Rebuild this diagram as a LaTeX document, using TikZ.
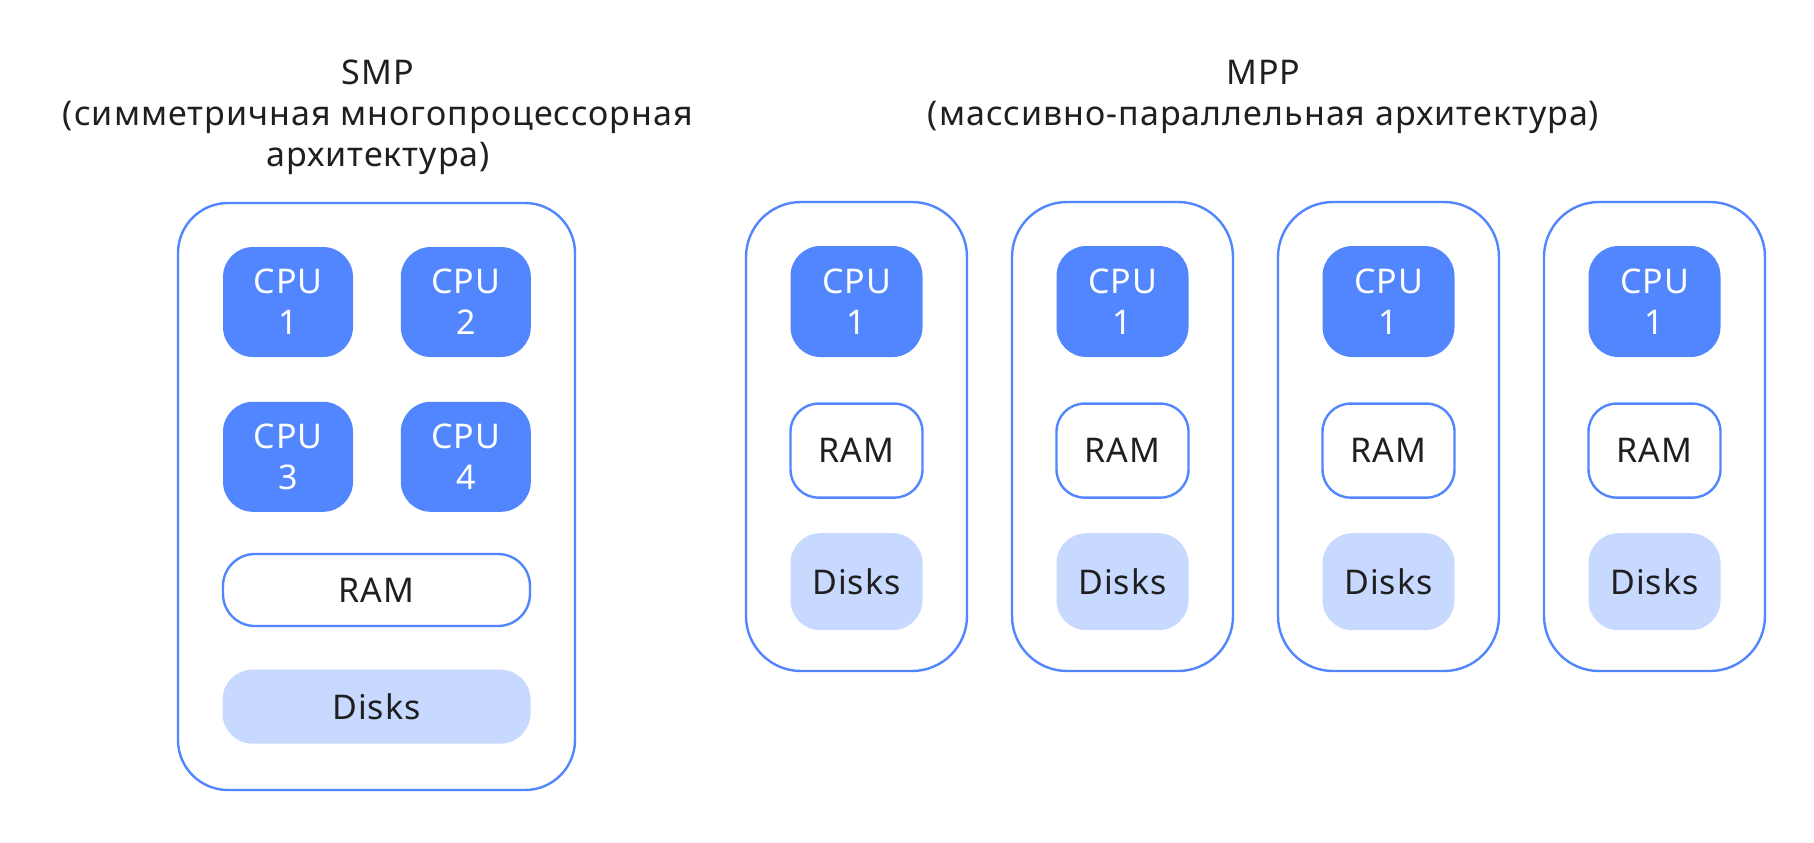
\documentclass[tikz,border=0pt]{standalone}
\usepackage{fontspec}
\setmainfont{Noto Sans}[LetterSpace=3]
\usepackage{xcolor}
\usepackage{tikz}
\usetikzlibrary{positioning}
\definecolor{ink}{HTML}{1F1F1F}
\definecolor{cpublue}{HTML}{5286FF}
\definecolor{diskblue}{HTML}{C8D9FF}

\begin{document}
\begin{tikzpicture}[x=0.5pt,y=-0.5pt,font=\fontsize{17}{20.5}\selectfont,
   title/.style={text=ink,align=center,inner sep=0pt,anchor=base},
   unit/.style={draw=cpublue,line width=1.2pt,fill=white,minimum width=110.5pt,
     minimum height=234.5pt,rounded corners=27.5pt},
   cpu/.style={fill=cpublue,text=white,rounded corners=15pt,align=center,
     minimum width=66pt,minimum height=55.5pt,inner sep=0pt},
   ram/.style={draw=cpublue,line width=1.2pt,fill=white,text=ink,rounded corners=14pt,
     minimum width=66pt,minimum height=47pt,inner sep=0pt},
   disks/.style={fill=diskblue,text=ink,rounded corners=15pt,
     minimum width=66pt,minimum height=48.5pt,inner sep=0pt}]
 \useasboundingbox (0,0) rectangle (1814,842);
 % SMP
 \node[title] (smpt) at (378,166) {SMP\\(симметричная многопроцессорная\\архитектура)};
 \node[unit,minimum width=198.5pt,minimum height=293.5pt,rounded corners=25pt] (smp) at (376.5,496.5) {};
 \node[cpu,minimum width=65pt,minimum height=55pt] (c1) at (288,302) {CPU\\1};
 \node[cpu,minimum width=65pt,minimum height=55pt,right=23.5pt of c1] (c2) {CPU\\2};
 \node[cpu,minimum width=65pt,minimum height=55pt,below=22pt of c1] (c3) {CPU\\3};
 \node[cpu,minimum width=65pt,minimum height=55pt,right=23.5pt of c3] (c4) {CPU\\4};
 \node[ram,minimum width=153.5pt,minimum height=36pt,rounded corners=16pt] (sram) at (376.5,590) {RAM};
 \node[disks,minimum width=154pt,minimum height=37pt,below=21pt of sram] (sdisk) {Disks};
 % MPP
 \node[title] (mppt) at (1263.5,125) {MPP\\(массивно-параллельная архитектура)};
 \node[unit] (m1) at (856.5,436.5) {};
 \node[cpu] (m1cpu) at (856.5,301.5) {CPU\\1};
 \node[ram,below=22.5pt of m1cpu] (m1ram) {RAM};
 \node[disks,below=17pt of m1ram] (m1disk) {Disks};
 \node[unit] (m2) at (1122.5,436.5) {};
 \node[cpu] (m2cpu) at (1122.5,301.5) {CPU\\1};
 \node[ram,below=22.5pt of m2cpu] (m2ram) {RAM};
 \node[disks,below=17pt of m2ram] (m2disk) {Disks};
 \node[unit] (m3) at (1388.5,436.5) {};
 \node[cpu] (m3cpu) at (1388.5,301.5) {CPU\\1};
 \node[ram,below=22.5pt of m3cpu] (m3ram) {RAM};
 \node[disks,below=17pt of m3ram] (m3disk) {Disks};
 \node[unit] (m4) at (1654.5,436.5) {};
 \node[cpu] (m4cpu) at (1654.5,301.5) {CPU\\1};
 \node[ram,below=22.5pt of m4cpu] (m4ram) {RAM};
 \node[disks,below=17pt of m4ram] (m4disk) {Disks};
\end{tikzpicture}
\end{document}
